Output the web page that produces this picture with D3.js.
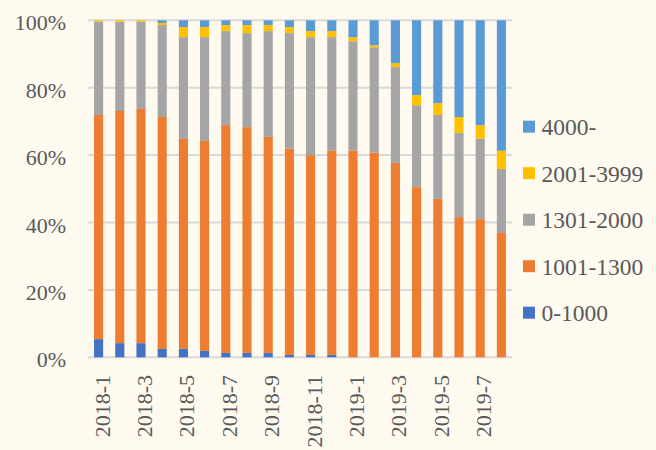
<!DOCTYPE html>
<html>
<head>
<meta charset="utf-8">
<script src="https://cdn.jsdelivr.net/npm/d3@7"></script>
<style>
  html, body { margin: 0; padding: 0; background: #fffaf0; }
  svg text { font-family: "Liberation Serif", "Times New Roman", serif; fill: #595959; }
</style>
</head>
<body>
<div id="chart"></div>
<script>
var months = ['2018-1', '2018-2', '2018-3', '2018-4', '2018-5', '2018-6', '2018-7', '2018-8', '2018-9', '2018-10',
    '2018-11', '2018-12', '2019-1', '2019-2', '2019-3', '2019-4', '2019-5', '2019-6', '2019-7', '2019-8'];
var seriesNames = ['0-1000', '1001-1300', '1301-2000', '2001-3999', '4000-'];
var colors = ['#4472c4', '#ed7d31', '#a5a5a5', '#ffc000', '#5b9bd5'];
var yTicks = [0, 20, 40, 60, 80, 100];

// shares in percent
var r0_1000    = [5.4, 4.2, 4.2, 2.5, 2.5, 1.9, 1.3, 1.3, 1.3, 0.7, 0.7, 0.7, 0, 0, 0, 0, 0, 0, 0, 0];
var r1001_1300 = [66.5, 68.9, 69.5, 68.8, 62.3, 62.3, 67.6, 67.0, 64.1, 61.2, 59.3, 60.7, 61.4, 60.8, 57.7, 50.5, 47.0, 41.6, 41.0, 36.9];
var r1301_2000 = [27.7, 26.5, 25.9, 27.3, 30.2, 30.8, 27.9, 27.9, 31.4, 34.3, 35.0, 33.6, 32.4, 31.2, 28.4, 24.3, 24.9, 25.0, 23.8, 19.0];
var r2001_3999 = [0.4, 0.4, 0.4, 0.6, 3.0, 3.0, 1.8, 2.4, 1.8, 1.8, 1.8, 1.8, 1.2, 0.6, 1.2, 3.0, 3.5, 4.7, 4.1, 5.4];
var r4000      = [0, 0, 0, 0.8, 2.0, 2.0, 1.4, 1.4, 1.4, 2.0, 3.2, 3.2, 5.0, 7.4, 12.7, 22.2, 24.6, 28.7, 31.1, 38.7];

var W = 656, H = 450;
var plotLeft = 88, plotRight = 512, plotTop = 20.3, plotBottom = 357.3;

var rows = months.map(function (m, i) {
    var tot = r0_1000[i] + r1001_1300[i] + r1301_2000[i] + r2001_3999[i] + r4000[i];
    return {
        month: m,
        '0-1000': r0_1000[i] / tot,
        '1001-1300': r1001_1300[i] / tot,
        '1301-2000': r1301_2000[i] / tot,
        '2001-3999': r2001_3999[i] / tot,
        '4000-': r4000[i] / tot
    };
});

var svg = d3.select('#chart')
    .append('svg')
    .attr('width', W)
    .attr('height', H)
    .attr('xmlns', 'http://www.w3.org/2000/svg');

svg.append('rect').attr('width', W).attr('height', H).attr('fill', '#fffaf0');

var x = d3.scaleBand()
    .domain(months)
    .range([plotLeft, plotRight])
    .paddingInner(0.57)
    .paddingOuter(0.285);

var y = d3.scaleLinear()
    .domain([0, 1])
    .range([plotBottom, plotTop]);

// gridlines
svg.append('g')
    .selectAll('line')
    .data(yTicks)
    .enter()
    .append('line')
    .attr('x1', plotLeft)
    .attr('x2', plotRight)
    .attr('y1', (d) => y(d / 100))
    .attr('y2', (d) => y(d / 100))
    .attr('stroke', '#d9d9d9')
    .attr('stroke-width', 2);

// y labels
svg.append('g')
    .selectAll('text')
    .data(yTicks)
    .enter()
    .append('text')
    .attr('x', 66)
    .attr('y', (d) => y(d / 100) + 10)
    .attr('text-anchor', 'end')
    .style('font-size', '22px')
    .text((d) => d + '%');

var stack = d3.stack().keys(seriesNames);
var layers = stack(rows);

svg.append('g')
    .selectAll('g')
    .data(layers)
    .enter()
    .append('g')
    .attr('fill', (d, i) => colors[i])
    .selectAll('rect')
    .data((d) => d)
    .enter()
    .append('rect')
    .attr('x', (d) => x(d.data.month))
    .attr('width', x.bandwidth())
    .attr('y', (d) => y(d[1]))
    .attr('height', (d) => y(d[0]) - y(d[1]));

// x labels, every other month
svg.append('g')
    .selectAll('text')
    .data(months.filter((d, i) => i % 2 === 0))
    .enter()
    .append('text')
    .attr('transform', (d) => 'translate(' + (x(d) + x.bandwidth() / 2 + 11) + ',375) rotate(-90)')
    .attr('text-anchor', 'end')
    .style('font-size', '22px')
    .text((d) => d);

// legend, top to bottom in reverse order
var legendItems = seriesNames.map((n, i) => ({ name: n, color: colors[i] })).reverse();
var lg = svg.append('g')
    .selectAll('g')
    .data(legendItems)
    .enter()
    .append('g')
    .attr('transform', (d, i) => 'translate(523,' + (126.7 + i * 46.5) + ')');
lg.append('rect')
    .attr('x', 0)
    .attr('y', -6)
    .attr('width', 12)
    .attr('height', 12)
    .attr('fill', (d) => d.color);
lg.append('text')
    .attr('x', 18.5)
    .attr('y', 8.3)
    .style('font-size', '23.5px')
    .text((d) => d.name);
</script>
</body>
</html>
